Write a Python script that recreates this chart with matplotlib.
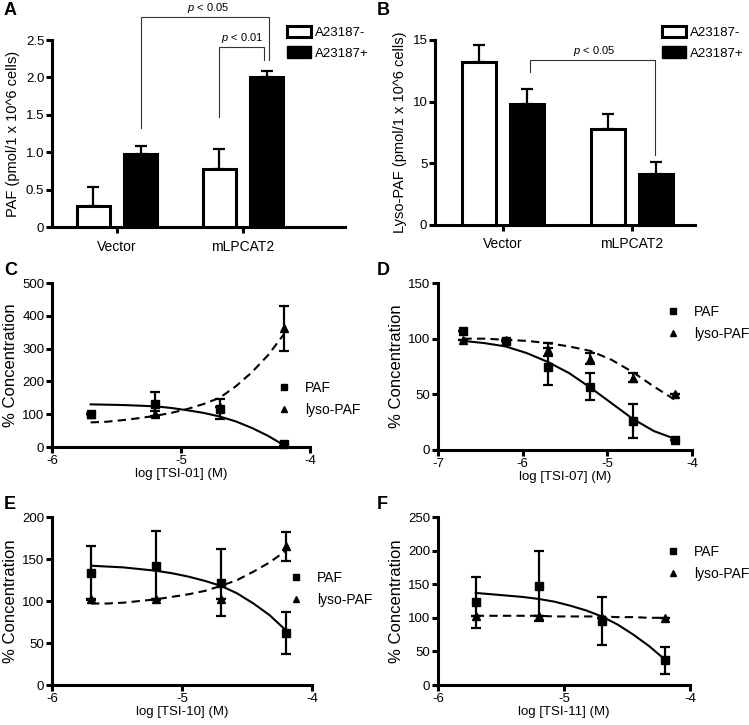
#
# plot.py
#   - PAF / lyso-PAF levels (A, B) and TSI dose-response curves (C-F).
#

import matplotlib
matplotlib.use("Agg")
import matplotlib.pyplot as plt
from matplotlib.patches import Patch
from matplotlib.lines import Line2D

plt.rcParams["font.family"] = ["Liberation Sans", "DejaVu Sans"]
plt.rcParams["axes.unicode_minus"] = False
plt.rcParams["mathtext.fontset"] = "custom"
plt.rcParams["mathtext.it"] = "Liberation Sans:italic"
plt.rcParams["mathtext.rm"] = "Liberation Sans"

W, H = 749, 725

# ---- panel A / B data ----
groups = ["Vector", "mLPCAT2"]
a_neg = [0.28, 0.78]
a_neg_err = [0.25, 0.26]
a_pos = [0.97, 2.01]
a_pos_err = [0.11, 0.07]

b_neg = [13.2, 7.8]
b_neg_err = [1.4, 1.2]
b_pos = [9.8, 4.1]
b_pos_err = [1.2, 1.0]

# ---- dose response data ----
dose4 = [-5.7, -5.2, -4.7, -4.2]
fit4 = [-5.7, -5.575, -5.45, -5.325, -5.2, -5.075, -4.95, -4.825, -4.7, -4.575, -4.45, -4.325, -4.2]

c_paf = [100, 130, 115, 8]
c_paf_err = [0, 37, 30, 5]
c_lyso = [100, 100, 122, 362]
c_lyso_err = [0, 10, 0, 68]
c_paf_fit = [130, 129, 128, 126, 124, 119, 112, 104, 93, 78, 58, 34, 5]
c_lyso_fit = [75, 77, 82, 88, 95, 104, 116, 131, 150, 185, 228, 280, 345]

dose6 = [-6.7, -6.2, -5.7, -5.2, -4.7, -4.2]
fit6 = [-6.7, -6.45, -6.2, -5.95, -5.7, -5.45, -5.2, -4.95, -4.7, -4.45, -4.2]
d_paf = [107, 98, 75, 57, 26, 9]
d_paf_err = [0, 0, 17, 12.5, 15, 0]
d_lyso = [99, 99, 90, 82, 65, 50]
d_lyso_err = [0, 0, 6, 5, 4, 0]
d_paf_fit = [98, 96, 93, 87, 79, 69, 56, 42, 28, 17, 10]
d_lyso_fit = [100, 100, 99, 98, 96, 93, 89, 81, 70, 57, 45]

e_paf = [133, 142, 122, 62]
e_paf_err = [32, 41, 40, 25]
e_lyso = [102, 102, 102, 165]
e_lyso_err = [0, 0, 0, 17]
e_paf_fit = [142, 141, 140, 138, 136, 133, 129, 124, 118, 109, 97, 83, 65]
e_lyso_fit = [97, 97, 98, 100, 102, 105, 108, 112, 118, 125, 135, 146, 160]

f_paf = [123, 147, 95, 37]
f_paf_err = [38, 52, 36, 20]
f_lyso = [102, 102, 100, 100]
f_lyso_err = [0, 0, 0, 0]
f_paf_fit = [137, 135, 133, 131, 128, 124, 118, 111, 102, 90, 75, 58, 38]
f_lyso_fit = [103, 103, 103, 103, 103, 102, 102, 102, 102, 101, 101, 100, 100]

SPINE = 2.2


def rect(left, top, right, bottom):
    return [left / W, 1 - bottom / H, (right - left) / W, (bottom - top) / H]


def style(ax):
    for s in ("top", "right"):
        ax.spines[s].set_visible(False)
    for s in ("left", "bottom"):
        ax.spines[s].set_linewidth(SPINE)
    ax.tick_params(direction="out", length=4, width=SPINE, labelsize=9.5, pad=1.5)


def letter(fig, x, y, s):
    fig.text(x / W, 1 - y / H, s, fontsize=13, fontweight="bold", va="top", ha="left")


def bar_panel(fig, pos, neg, neg_err, posv, pos_err, ylim, yticks, yticklabels, ylabel, leg_xy):
    ax = fig.add_axes(pos)
    style(ax)
    xs = list(range(len(groups)))
    off, bw = 0.188, 0.262
    ax.bar([x - off for x in xs], neg, bw, color="white", edgecolor="black", linewidth=SPINE,
           yerr=[[0] * len(neg), neg_err], capsize=4.5,
           error_kw=dict(elinewidth=1.6, capthick=1.6), clip_on=False, zorder=3)
    ax.bar([x + off for x in xs], posv, bw, color="black", edgecolor="black", linewidth=SPINE,
           yerr=[[0] * len(posv), pos_err], capsize=4.5,
           error_kw=dict(elinewidth=1.6, capthick=1.6), clip_on=False, zorder=3)
    ax.set_ylim(*ylim)
    ax.set_yticks(yticks)
    ax.set_yticklabels(yticklabels)
    ax.set_xticks(xs)
    ax.set_xticklabels(groups, fontsize=10)
    ax.tick_params(axis="x", pad=5)
    ax.set_ylabel(ylabel, fontsize=10.5, labelpad=4)
    handles = [Patch(facecolor="white", edgecolor="black", linewidth=SPINE, label="A23187-"),
               Patch(facecolor="black", edgecolor="black", label="A23187+")]
    ax.legend(handles=handles, loc="upper left", frameon=False, fontsize=9.5,
              bbox_to_anchor=(leg_xy[0] / W, 1 - leg_xy[1] / H), bbox_transform=fig.transFigure,
              borderpad=0, borderaxespad=0, handlelength=1.8, handleheight=0.95,
              handletextpad=0.3, labelspacing=0.55)
    return ax


def bracket(ax, x0, y0, xtop, x1, y1, text, tx, ty):
    ax.plot([x0, x0, x1, x1], [y0, xtop, xtop, y1], color="#333333", lw=0.8, clip_on=False)
    ax.text(tx, ty, text, ha="center", va="bottom", fontsize=8, clip_on=False)


def dose_panel(fig, pos, xd, paf, paf_err, lyso, lyso_err, xf, paf_fit, lyso_fit,
               xlim, xticks, ylim, yticks, xlabel, leg_xy):
    ax = fig.add_axes(pos)
    style(ax)
    ax.plot(xf, paf_fit, color="black", lw=1.5, clip_on=False)
    ax.plot(xf, lyso_fit, color="black", lw=1.5, ls=(0, (4, 2.5)), clip_on=False)
    ax.errorbar(xd, paf, yerr=paf_err, fmt="s", color="black", ms=5.5, capsize=3.5,
                elinewidth=1.6, capthick=1.6, clip_on=False)
    ax.errorbar(xd, lyso, yerr=lyso_err, fmt="^", color="black", ms=5.5, capsize=3.5,
                elinewidth=1.6, capthick=1.6, clip_on=False)
    ax.set_xlim(*xlim)
    ax.set_xticks(xticks)
    ax.set_xticklabels([str(t) for t in xticks])
    ax.set_ylim(*ylim)
    ax.set_yticks(yticks)
    ax.set_xlabel(xlabel, fontsize=9.5, labelpad=1)
    ax.set_ylabel("% Concentration", fontsize=12, labelpad=3)
    handles = [Line2D([], [], marker="s", ls="none", color="black", ms=5, label="PAF"),
               Line2D([], [], marker="^", ls="none", color="black", ms=5, label="lyso-PAF")]
    ax.legend(handles=handles, loc="center left", frameon=False, fontsize=10,
              bbox_to_anchor=(leg_xy[0] / W, 1 - leg_xy[1] / H), bbox_transform=fig.transFigure,
              borderpad=0, borderaxespad=0, handlelength=1.0, handletextpad=1.0,
              labelspacing=0.55)
    return ax


def main():
    fig = plt.figure(figsize=(W / 100, H / 100), dpi=100)

    # A
    ax_a = bar_panel(fig, rect(52, 40, 345, 227), a_neg, a_neg_err, a_pos, a_pos_err,
                     (0, 2.5), [0, 0.5, 1.0, 1.5, 2.0, 2.5],
                     ["0", "0.5", "1.0", "1.5", "2.0", "2.5"],
                     "PAF (pmol/1 x 10^6 cells)", (287, 26))
    ax_a.set_xlim(-0.516, 1.81)
    bracket(ax_a, 0.19, 1.32, 2.81, 1.206, 2.23, "$p$ < 0.05", 0.72, 2.84)
    bracket(ax_a, 0.81, 1.47, 2.40, 1.165, 2.23, "$p$ < 0.01", 0.99, 2.43)
    letter(fig, 4, 2, "A")

    # B
    ax_b = bar_panel(fig, rect(435, 40, 695, 225), b_neg, b_neg_err, b_pos, b_pos_err,
                     (0, 15), [0, 5, 10, 15], ["0", "5", "10", "15"],
                     "Lyso-PAF (pmol/1 x 10^6 cells)", (662, 26))
    ax_b.set_xlim(-0.527, 1.488)
    bracket(ax_b, 0.21, 12.4, 13.4, 1.18, 5.7, "$p$ < 0.05", 0.71, 13.55)
    letter(fig, 377, 2, "B")

    # C
    dose_panel(fig, rect(52, 283, 310, 447), dose4, c_paf, c_paf_err, c_lyso, c_lyso_err,
               fit4, c_paf_fit, c_lyso_fit, (-6, -4), [-6, -5, -4], (0, 500),
               [0, 100, 200, 300, 400, 500], "log [TSI-01] (M)", (277, 399))
    letter(fig, 4, 262, "C")

    # D
    dose_panel(fig, rect(438, 283, 692, 450), dose6, d_paf, d_paf_err, d_lyso, d_lyso_err,
               fit6, d_paf_fit, d_lyso_fit, (-7, -4), [-7, -6, -5, -4], (0, 150),
               [0, 50, 100, 150], "log [TSI-07] (M)", (666, 323))
    letter(fig, 377, 262, "D")

    # E
    dose_panel(fig, rect(52, 517, 312, 685), dose4, e_paf, e_paf_err, e_lyso, e_lyso_err,
               fit4, e_paf_fit, e_lyso_fit, (-6, -4), [-6, -5, -4], (0, 200),
               [0, 50, 100, 150, 200], "log [TSI-10] (M)", (289, 589))
    letter(fig, 4, 496, "E")

    # F
    dose_panel(fig, rect(438, 517, 690, 685), dose4, f_paf, f_paf_err, f_lyso, f_lyso_err,
               fit4, f_paf_fit, f_lyso_fit, (-6, -4), [-6, -5, -4], (0, 250),
               [0, 50, 100, 150, 200, 250], "log [TSI-11] (M)", (666, 563))
    letter(fig, 377, 496, "F")

    fig.savefig("out.png", dpi=100)


if __name__ == '__main__':
    main()
